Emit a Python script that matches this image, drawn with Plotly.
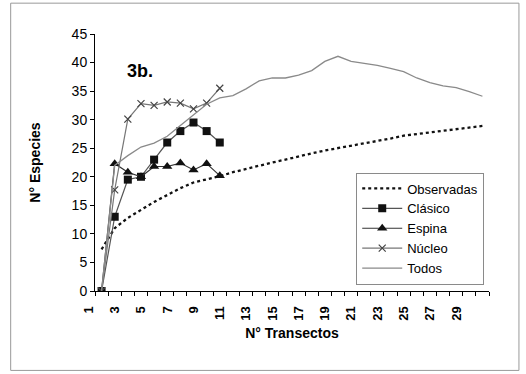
import plotly.graph_objects as go

# ---- data ----
transectos = list(range(1, 31))
tick_vals = list(range(1, 30, 2))
tick_text = [str(v) for v in tick_vals]

observadas = [7.3, 11.0, 12.8, 14.2, 15.6, 16.8, 18.0, 19.0, 19.5, 20.1,
              20.8, 21.4, 22.0, 22.5, 23.0, 23.6, 24.1, 24.6, 25.0, 25.4,
              25.9, 26.3, 26.7, 27.2, 27.5, 27.8, 28.1, 28.4, 28.6, 28.9]
clasico = [0, 13, 19.5, 20, 23, 26, 28, 29.5, 28, 26]
espina = [0, 22.3, 20.8, 20, 21.8, 21.8, 22.4, 21.2, 22.3, 20.2]
nucleo = [0, 17.7, 30.1, 32.8, 32.5, 33.1, 32.9, 31.9, 32.9, 35.5]
todos = [0, 22.0, 23.7, 25.2, 25.9, 27.1, 29.0, 30.8, 32.7, 33.8,
         34.2, 35.4, 36.8, 37.3, 37.3, 37.8, 38.6, 40.2, 41.1, 40.2,
         39.9, 39.5, 39.0, 38.4, 37.3, 36.5, 35.9, 35.6, 34.9, 34.1]

FONT = "Arial, Liberation Sans, sans-serif"

fig = go.Figure()
fig.add_trace(go.Scatter(x=transectos[:len(observadas)], y=observadas, name="Observadas",
                         mode="lines", line=dict(color="#111111", width=2.3, dash="3px,3px")))
fig.add_trace(go.Scatter(x=transectos[:len(clasico)], y=clasico, name="Clásico",
                         mode="lines+markers", line=dict(color="#555555", width=1.2),
                         marker=dict(symbol="square", size=8, color="#111111")))
fig.add_trace(go.Scatter(x=transectos[:len(espina)], y=espina, name="Espina",
                         mode="lines+markers", line=dict(color="#333333", width=1.2),
                         marker=dict(symbol="triangle-up", size=9, color="#111111")))
fig.add_trace(go.Scatter(x=transectos[:len(nucleo)], y=nucleo, name="Núcleo",
                         mode="lines+markers", line=dict(color="#777777", width=1.2),
                         marker=dict(symbol="x-thin", size=7, color="#444444",
                                     line=dict(color="#444444", width=1.2))))
fig.add_trace(go.Scatter(x=transectos[:len(todos)], y=todos, name="Todos",
                         mode="lines", line=dict(color="#8a8a8a", width=1.3)))

fig.update_layout(
    width=526, height=374,
    margin=dict(l=94.5, r=37, t=34, b=82.5),
    paper_bgcolor="white", plot_bgcolor="white",
    font=dict(family=FONT, color="black", size=14),
    legend=dict(x=0.663, y=0.461, xanchor="left", yanchor="top",
                bordercolor="#8a8a8a", borderwidth=1, bgcolor="white",
                font=dict(size=13), itemwidth=40, tracegroupgap=0),
    xaxis=dict(range=[0.5, 30.5], tickmode="array", tickvals=tick_vals, ticktext=tick_text,
               tickangle=-90, ticks="", ticklabelshift=-13, ticklabelstandoff=9,
               tickfont=dict(size=13, family=FONT, weight="bold"),
               showline=True, linecolor="black", linewidth=1, showgrid=False, zeroline=False,
               minor=dict(tickmode="linear", tick0=0.5, dtick=1, ticks="outside",
                          ticklen=4, tickcolor="black", showgrid=False),
               title=dict(text="N° Transectos", font=dict(size=14, weight="bold"), standoff=8)),
    yaxis=dict(range=[0, 45], dtick=5, ticks="outside", ticklen=4, tickcolor="black",
               showline=True, linecolor="black", linewidth=1, showgrid=False, zeroline=False,
               tickfont=dict(size=14),
               title=dict(text="N° Especies", font=dict(size=14, weight="bold"), standoff=27)),
    annotations=[dict(text="<b>3b.</b>", x=0.077, y=0.903, xref="paper", yref="paper",
                      showarrow=False, font=dict(size=18))],
    shapes=[dict(type="rect", xref="paper", yref="paper", x0=-0.214, x1=1.076,
                 y0=-0.309, y1=1.12, line=dict(color="#999999", width=1))],
)

fig.write_html("out.html")
